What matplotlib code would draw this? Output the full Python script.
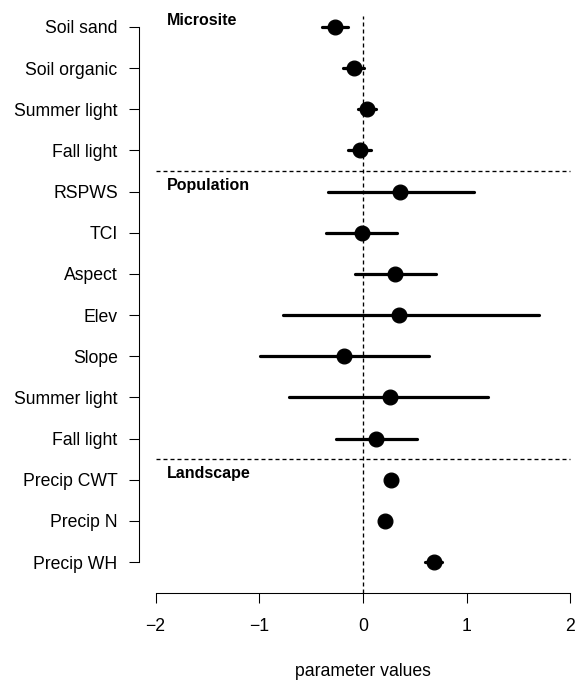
import matplotlib
matplotlib.use("Agg")
import matplotlib.pyplot as plt
import numpy as np

plt.rcParams['font.family'] = ['Liberation Sans', 'DejaVu Sans']

# covariates, top to bottom
labels = ["Soil sand", "Soil organic", "Summer light", "Fall light",
          "RSPWS", "TCI", "Aspect", "Elev", "Slope", "Summer light", "Fall light",
          "Precip CWT", "Precip N", "Precip WH"]
est = [-0.27, -0.09, 0.04, -0.03,
       0.36, -0.01, 0.31, 0.35, -0.18, 0.26, 0.13,
       0.27, 0.21, 0.68]
lower = [-0.40, -0.19, -0.05, -0.14,
         -0.34, -0.36, -0.08, -0.77, -0.99, -0.71, -0.26,
         0.22, 0.16, 0.60]
upper = [-0.14, 0.01, 0.13, 0.08,
         1.07, 0.33, 0.70, 1.70, 0.64, 1.21, 0.52,
         0.33, 0.25, 0.76]

# model levels and the row each one starts at
groups = ["Microsite", "Population", "Landscape"]
group_start = [1, 5, 12]

rows = np.arange(1, len(labels) + 1)

fig = plt.figure(figsize=(6, 681 / 96), dpi=96)
ax = fig.add_axes([139 / 576, 88 / 681, 448 / 576, 577 / 681])

# reference lines
ax.axvline(0, color='black', lw=1.0, dashes=(3, 2.25), zorder=1)
for s in group_start[1:]:
    ax.hlines(s - 0.5, -2, 2, color='black', lw=1.0, linestyles=[(0, (3, 2.25))], zorder=1)

# credible intervals and point estimates
for y, lo, hi in zip(rows, lower, upper):
    ax.plot([lo, hi], [y, y], color='black', lw=2.4, solid_capstyle='round', zorder=2)
ax.plot(est, rows, 'o', ms=11, color='black', zorder=3)

for name, s in zip(groups, group_start):
    ax.text(-1.89, s - 0.15, name, fontsize=12, fontweight='bold', ha='left', va='center')

ax.set_xlim(-2.16, 2.16)
ax.set_ylim(14.753, 0.733)

ax.spines['top'].set_visible(False)
ax.spines['right'].set_visible(False)
ax.spines['left'].set_bounds(1, 14)
ax.spines['bottom'].set_bounds(-2, 2)
for sp in ('left', 'bottom'):
    ax.spines[sp].set_linewidth(0.8)

ax.set_xticks([-2, -1, 0, 1, 2])
ax.set_yticks(rows)
ax.set_yticklabels(labels)
ax.tick_params(axis='both', labelsize=13.2, length=7.5, width=0.8)
ax.tick_params(axis='y', pad=8.5)
ax.tick_params(axis='x', pad=11)

ax.set_xlabel('parameter values', fontsize=13.2, labelpad=21)

fig.savefig('out.png', dpi=96)
